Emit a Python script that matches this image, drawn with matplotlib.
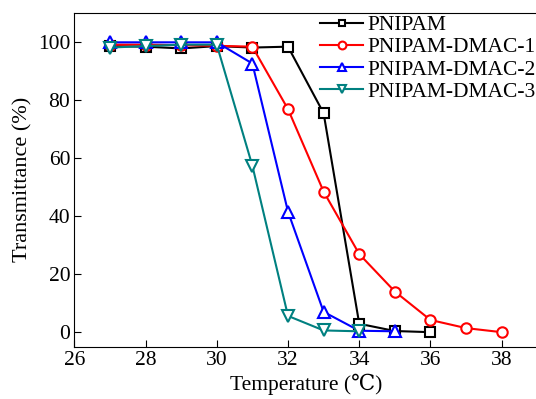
import matplotlib
matplotlib.use("Agg")
import matplotlib.pyplot as plt

plt.rcParams['font.family'] = ['Liberation Serif', 'DejaVu Serif']
plt.rcParams['mathtext.fontset'] = 'stix'

temp_pnipam = [27, 28, 29, 30, 31, 32, 33, 34, 35, 36]
trans_pnipam = [98.5, 98.3, 97.7, 98.5, 98.0, 98.3, 75.4, 2.9, 0.4, 0.0]

temp_d1 = [27, 28, 29, 30, 31, 32, 33, 34, 35, 36, 37, 38]
trans_d1 = [99.0, 99.0, 98.8, 98.6, 98.3, 76.8, 48.4, 26.9, 14.0, 4.2, 1.4, 0.0]

temp_d2 = [27, 28, 29, 30, 31, 32, 33, 34, 35]
trans_d2 = [99.8, 99.8, 99.8, 99.8, 92.5, 41.5, 7.0, 0.5, 0.3]

temp_d3 = [27, 28, 29, 30, 31, 32, 33, 34]
trans_d3 = [98.0, 98.5, 99.0, 99.0, 57.3, 5.6, 0.6, 0.3]

labels = ['PNIPAM', 'PNIPAM-DMAC-1', 'PNIPAM-DMAC-2', 'PNIPAM-DMAC-3']
x_ticks = [26, 28, 30, 32, 34, 36, 38]
y_ticks = [0, 20, 40, 60, 80, 100]

fig = plt.figure(figsize=(5.36, 3.99), dpi=100)
ax = fig.add_axes([74.3/536, (399-346.7)/399, 463/536, (346.7-12.7)/399])

series = [
    (temp_pnipam, trans_pnipam, 'black', 's', 6.5),
    (temp_d1, trans_d1, 'red', 'o', 7.5),
    (temp_d2, trans_d2, 'blue', '^', 8),
    (temp_d3, trans_d3, '#008080', 'v', 8),
]
for (x, y, c, m, ms), lab in zip(series, labels):
    ax.plot(x, y, color=c, marker=m, markersize=ms, markerfacecolor='white',
            markeredgecolor=c, markeredgewidth=1.5, linewidth=1.5, label=lab)

ax.set_xlim(26, 39)
ax.set_ylim(-5, 110)
ax.set_xticks(x_ticks)
ax.set_yticks(y_ticks)
ax.tick_params(direction='in', length=5, labelsize=15.5, top=False, right=False, pad=3)
ax.set_xlabel('Temperature (℃)', fontsize=15.5, labelpad=3)
ax.set_ylabel('Transmittance (%)', fontsize=16, labelpad=4)

leg = fig.legend(loc='upper left', bbox_to_anchor=(320/536, 1 - 15/399), frameon=False,
                 fontsize=15.5, handlelength=2.0, labelspacing=0.1, handletextpad=0.2,
                 borderaxespad=0, borderpad=0, markerscale=0.75)

fig.savefig('out.png', dpi=100)
